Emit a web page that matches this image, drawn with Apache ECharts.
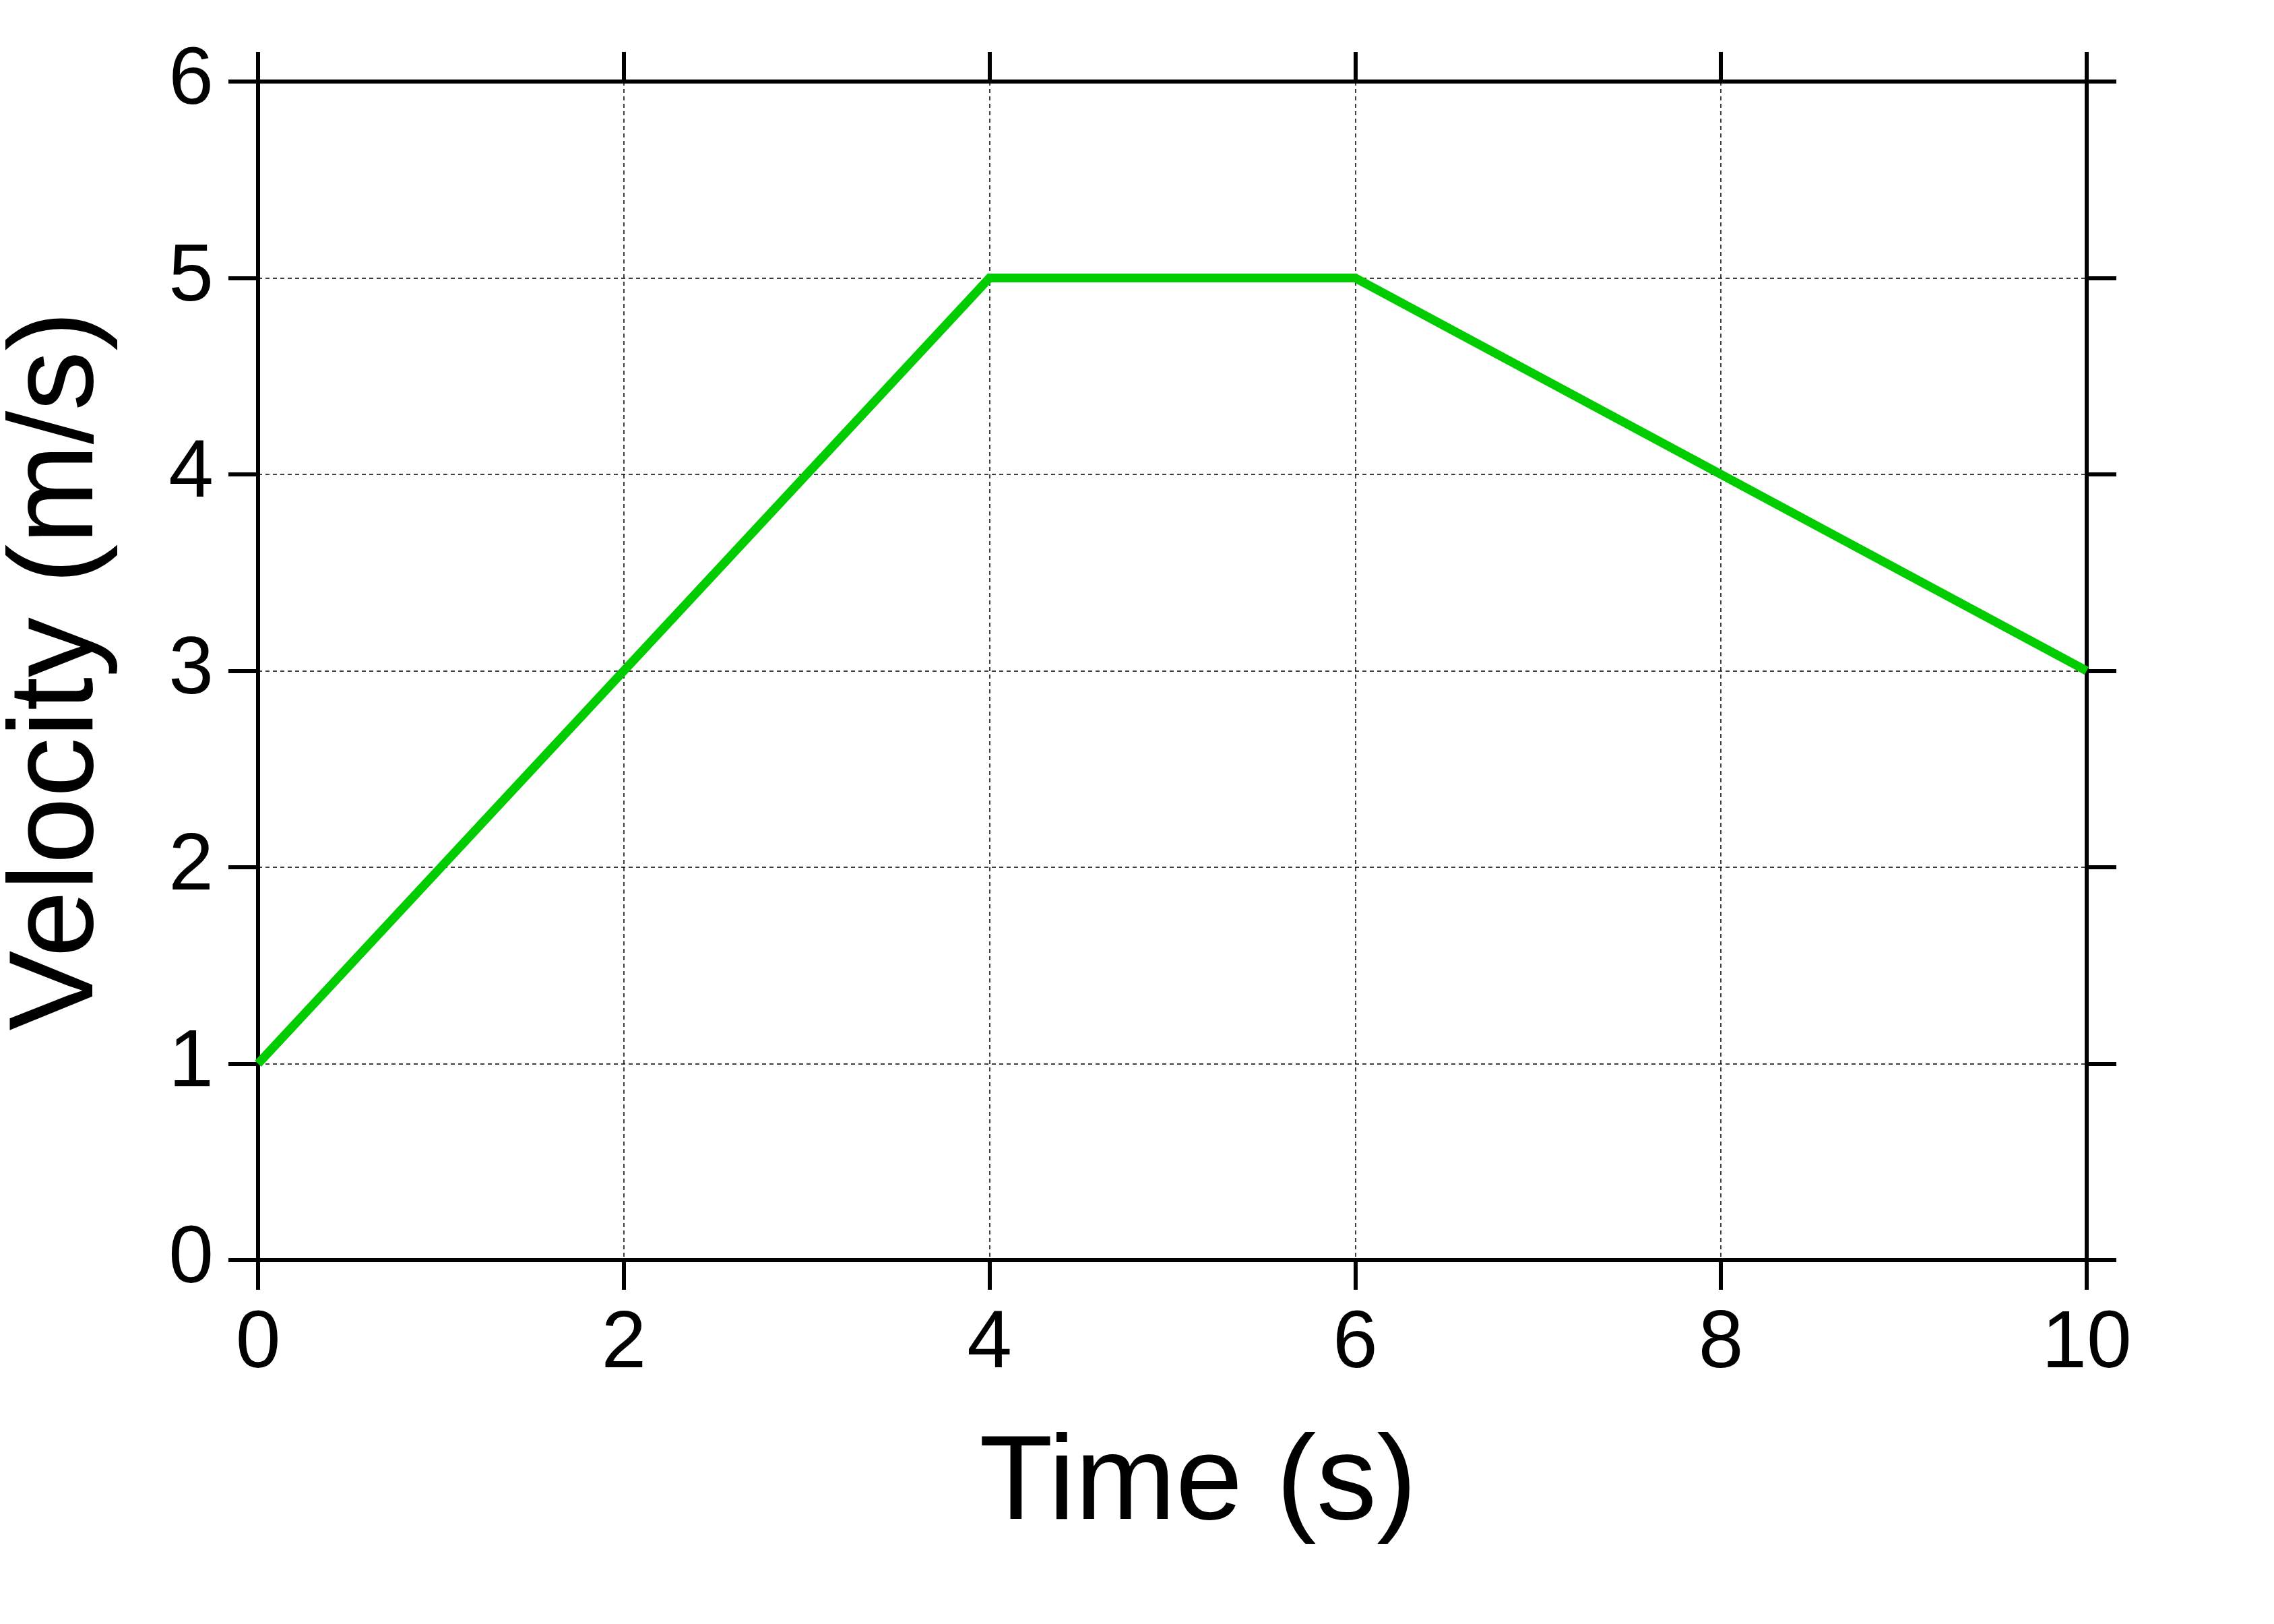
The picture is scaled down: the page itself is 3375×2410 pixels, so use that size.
<!DOCTYPE html>
<html>
<head>
<meta charset="utf-8">
<style>
html,body{margin:0;padding:0;background:#fff;}
#chart{width:3375px;height:2410px;}
</style>
<script src="https://cdn.jsdelivr.net/npm/echarts@6/dist/echarts.min.js"></script>
</head>
<body>
<div id="chart"></div>
<script>
const timeValues = [0, 4, 6, 10];
const velocityValues = [1, 5, 5, 3];
const xTicks = [0, 2, 4, 6, 8, 10];
const yTicks = [0, 1, 2, 3, 4, 5, 6];

const FONT = '"Liberation Sans", Arial, Helvetica, sans-serif';
const chart = echarts.init(document.getElementById('chart'), null, {renderer: 'canvas'});

const axisLine = {show: true, onZero: false, lineStyle: {color: '#000', width: 6}};
const axisTick = {show: true, inside: false, length: 44, lineStyle: {color: '#000', width: 6}};
const gridLine = {show: true, lineStyle: {color: '#000', width: 1.5, type: [6, 5]}};

chart.setOption({
  animation: false,
  backgroundColor: '#fff',
  grid: {left: 383, right: 278, top: 121, bottom: 540, containLabel: false, outerBoundsMode: 'none'},
  xAxis: [
    {
      type: 'value', position: 'bottom', min: xTicks[0], max: xTicks[xTicks.length - 1], interval: 2,
      name: 'Time (s)', nameLocation: 'middle', nameGap: 245,
      nameTextStyle: {fontFamily: FONT, fontSize: 179, color: '#000', padding: [0, 0, 0, 76]},
      axisLine: axisLine, axisTick: axisTick, splitLine: gridLine,
      axisLabel: {show: true, margin: 66, fontFamily: FONT, fontSize: 120, color: '#000'}
    },
    {
      type: 'value', position: 'top', min: xTicks[0], max: xTicks[xTicks.length - 1], interval: 2,
      axisLine: axisLine, axisTick: axisTick, splitLine: {show: false},
      axisLabel: {show: false}
    }
  ],
  yAxis: [
    {
      type: 'value', position: 'left', min: yTicks[0], max: yTicks[yTicks.length - 1], interval: 1,
      name: 'Velocity (m/s)', nameLocation: 'middle', nameGap: 206, nameRotate: 90,
      nameTextStyle: {fontFamily: FONT, fontSize: 178, color: '#000'},
      axisLine: axisLine, axisTick: axisTick, splitLine: gridLine,
      axisLabel: {show: true, margin: 66, fontFamily: FONT, fontSize: 120, color: '#000'}
    },
    {
      type: 'value', position: 'right', min: yTicks[0], max: yTicks[yTicks.length - 1], interval: 1,
      axisLine: axisLine, axisTick: axisTick, splitLine: {show: false},
      axisLabel: {show: false}
    }
  ],
  series: [{
    type: 'line',
    data: timeValues.map((t, i) => [t, velocityValues[i]]),
    showSymbol: false,
    symbol: 'none',
    lineStyle: {color: '#00CC00', width: 13, join: 'miter', cap: 'butt'},
    z: 3
  }]
});
</script>
</body>
</html>
